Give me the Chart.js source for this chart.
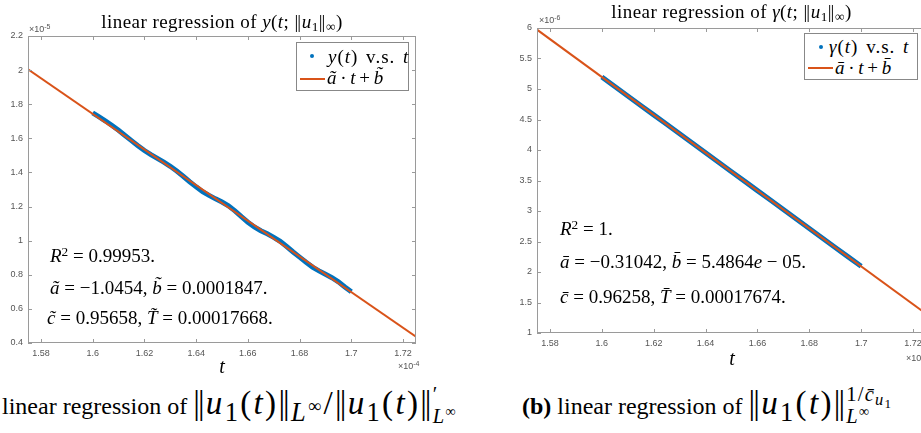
<!DOCTYPE html>
<html>
<head>
<meta charset="utf-8">
<script src="https://cdn.jsdelivr.net/npm/chart.js@4.4.1/dist/chart.umd.min.js"></script>
<style>
  html, body { margin: 0; padding: 0; background: #fff; overflow: hidden; }
  #page { position: relative; width: 921px; height: 433px; overflow: hidden; }
  canvas { position: absolute; }
  .t { position: absolute; white-space: nowrap; line-height: 1; font-family: "Liberation Serif", "DejaVu Serif", serif; color: #000; }
  .t sup, .t sub { font-size: 70%; line-height: 0; position: relative; vertical-align: baseline; }
  .t sup { top: -0.45em; }
  .t sub { top: 0.25em; }
  .nb { letter-spacing: -0.06em; margin-right: 0.1em; }
  .exp { position: absolute; white-space: nowrap; font-family: "Liberation Sans", Arial, sans-serif; font-size: 9px; color: #555; line-height: 1; }
  .exp sup { font-size: 7px; position: relative; top: -0.4em; line-height: 0; vertical-align: baseline; }
  .box { position: absolute; border: 1px solid #888; background: #fff; box-sizing: border-box; }
  .dot { position: absolute; width: 4px; height: 4px; border-radius: 50%; background: #0072BD; }
  .seg { position: absolute; width: 25px; height: 2px; background: #D95319; }
  .lg1 { letter-spacing: 1px; word-spacing: 2px; }
  .lg2 { word-spacing: -1px; }
  .ttl { letter-spacing: 0.45px; }
  .cm { font-size: 1.38em; letter-spacing: 2.3px; }
  .cm sub { font-size: 80%; }
  .stk { display: inline-block; vertical-align: -0.42em; font-size: 62%; line-height: 1.05; letter-spacing: 1.2px; }
  .stk > span { display: block; }
</style>
</head>
<body>
<div id="page">
  <canvas id="chartA" width="440" height="380" style="left:0;top:0"></canvas>
  <canvas id="chartB" width="470" height="370" style="left:480px;top:0"></canvas>

  <!-- titles -->
  <div class="t ttl" style="left:28px;top:12px;width:388px;text-align:center;font-size:19px">linear regression of <i>y</i>(<i>t</i>; <span class="nb">||</span><i>u</i><sub>1</sub><span class="nb">||</span><sub>∞</sub>)</div>
  <div class="t ttl" style="left:537px;top:2px;width:389px;text-align:center;font-size:19px">linear regression of <i>γ</i>(<i>t</i>; <span class="nb">||</span><i>u</i><sub>1</sub><span class="nb">||</span><sub>∞</sub>)</div>

  <!-- exponent labels -->
  <div class="exp" style="left:29px;top:25px">×10<sup>-5</sup></div>
  <div class="exp" style="left:398px;top:362px">×10<sup>-4</sup></div>
  <div class="exp" style="left:539px;top:16px">×10<sup>-6</sup></div>
  <div class="exp" style="left:906px;top:354px">×10<sup>-4</sup></div>

  <!-- axis labels -->
  <div class="t" style="left:216px;top:356px;width:12px;text-align:center;font-size:20px"><i>t</i></div>
  <div class="t" style="left:726px;top:348px;width:12px;text-align:center;font-size:20px"><i>t</i></div>

  <!-- legends -->
  <div class="box" style="left:296px;top:42px;width:113px;height:49px"></div>
  <div class="dot" style="left:310px;top:54px"></div>
  <div class="t lg1" style="left:328px;top:47px;font-size:19px"><i>y</i>(<i>t</i>) v.s. <i>t</i></div>
  <div class="seg" style="left:300px;top:78px"></div>
  <div class="t lg2" style="left:327px;top:68px;font-size:19px"><i>ã</i> · <i>t</i> + <i>b̃</i></div>

  <div class="box" style="left:804px;top:33px;width:114px;height:47px"></div>
  <div class="dot" style="left:819px;top:45px"></div>
  <div class="t lg1" style="left:829px;top:37px;font-size:19px"><i>γ</i>(<i>t</i>) v.s. <i>t</i></div>
  <div class="seg" style="left:808px;top:67px"></div>
  <div class="t lg2" style="left:835px;top:58px;font-size:19px"><i>ā</i> · <i>t</i> + <i>b̄</i></div>

  <!-- fit annotations -->
  <div class="t" style="left:50px;top:246px;font-size:19px"><i>R</i><sup>2</sup> = 0.99953.</div>
  <div class="t" style="left:50px;top:278px;font-size:19px"><i>ã</i> = −1.0454, <i>b̃</i> = 0.0001847.</div>
  <div class="t" style="left:47px;top:308px;font-size:19px"><i>c̃</i> = 0.95658, <i>T̃</i> = 0.00017668.</div>

  <div class="t" style="left:560px;top:219px;font-size:19px"><i>R</i><sup>2</sup> = 1.</div>
  <div class="t" style="left:560px;top:252px;font-size:19px"><i>ā</i> = −0.31042, <i>b̄</i> = 5.4864<i>e</i> − 05.</div>
  <div class="t" style="left:560px;top:287px;font-size:19px"><i>c̄</i> = 0.96258, <i>T̄</i> = 0.00017674.</div>

  <!-- captions -->
  <div class="t" style="left:2px;top:384px;font-size:24px">linear regression of <span class="cm"><span class="nb">||</span><i>u</i><sub>1</sub>(<i>t</i>)<span class="nb">||</span><sub><i>L</i><sup>∞</sup></sub>/<span class="nb">||</span><i>u</i><sub>1</sub>(<i>t</i>)<span class="nb">||</span><span class="stk"><span>′</span><span><i>L</i><sup>∞</sup></span></span></span></div>
  <div class="t" style="left:522px;top:384px;font-size:24px"><b>(b)</b> linear regression of <span class="cm"><span class="nb">||</span><i>u</i><sub>1</sub>(<i>t</i>)<span class="nb">||</span><span class="stk"><span>1/<i>c̄</i><sub><i>u</i><sub>1</sub></sub></span><span><i>L</i><sup>∞</sup></span></span></span></div>
</div>

<script>
// x axis (units of 1e-4), shared by both panels
const xTicks = [1.58, 1.6, 1.62, 1.64, 1.66, 1.68, 1.7, 1.72];
const tFit = [1.575, 1.725];

// panel a: y(t) (units of 1e-5)
const yTicksA = [0.4, 0.6, 0.8, 1, 1.2, 1.4, 1.6, 1.8, 2, 2.2];
const tDataA = [1.6, 1.6025, 1.605, 1.6075, 1.61, 1.6125, 1.615, 1.6175, 1.62, 1.6225,
                1.625, 1.6275, 1.63, 1.6325, 1.635, 1.6375, 1.64, 1.6425, 1.645, 1.6475,
                1.65, 1.6525, 1.655, 1.6575, 1.66, 1.6625, 1.665, 1.6675, 1.67, 1.6725,
                1.675, 1.6775, 1.68, 1.6825, 1.685, 1.6875, 1.69, 1.6925, 1.695, 1.6975, 1.7];
const yDataA = [1.7486, 1.7255, 1.7013, 1.6752, 1.6471, 1.6169, 1.5868, 1.5567, 1.5285, 1.5044,
                1.4823, 1.4601, 1.4360, 1.4079, 1.3777, 1.3456, 1.3154, 1.2873, 1.2652, 1.2450,
                1.2269, 1.2048, 1.1746, 1.1405, 1.1084, 1.0802, 1.0581, 1.0400, 1.0198, 0.9957,
                0.9656, 0.9334, 0.9033, 0.8732, 0.8450, 0.8229, 0.8028, 0.7826, 0.7585, 0.7284, 0.7002];
const yFitA = [2.00495, 0.43685];

// panel b: gamma(t) (units of 1e-6)
const yTicksB = [1, 1.5, 2, 2.5, 3, 3.5, 4, 4.5, 5, 5.5, 6];
const tDataB = [1.6, 1.605, 1.61, 1.615, 1.62, 1.625, 1.63, 1.635, 1.64, 1.645, 1.65,
                1.655, 1.66, 1.665, 1.67, 1.675, 1.68, 1.685, 1.69, 1.695, 1.7];
const yDataB = [5.1968, 5.0416, 4.8864, 4.7312, 4.5760, 4.4208, 4.2655, 4.1103, 3.9551, 3.7999, 3.6447,
                3.4895, 3.3343, 3.1791, 3.0239, 2.8687, 2.7135, 2.5583, 2.4031, 2.2479, 2.0927];
const yFitB = [5.97285, 1.31655];

const blue = '#0072BD';
const red = '#D95319';
const tickFont = { family: 'Liberation Sans', size: 9 };

function fmt(v) {
    return String(parseFloat(Number(v).toFixed(2)));
}

function pts(xs, ys) {
    return xs.map((x, i) => ({ x: x, y: ys[i] }));
}

// MATLAB-like box with inward ticks on all four sides
const boxPlugin = {
    id: 'matlabBox',
    afterDatasetsDraw(chart) {
        const { ctx, chartArea: a, scales } = chart;
        ctx.save();
        ctx.strokeStyle = '#9a9a9a';
        ctx.lineWidth = 1;
        ctx.strokeRect(a.left + 0.5, a.top + 0.5, a.width - 1, a.height - 1);
        ctx.beginPath();
        scales.x.ticks.forEach(t => {
            const px = Math.round(scales.x.getPixelForValue(t.value)) + 0.5;
            ctx.moveTo(px, a.bottom);
            ctx.lineTo(px, a.bottom - 4);
            ctx.moveTo(px, a.top);
            ctx.lineTo(px, a.top + 4);
        });
        scales.y.ticks.forEach(t => {
            const py = Math.round(scales.y.getPixelForValue(t.value)) + 0.5;
            ctx.moveTo(a.left, py);
            ctx.lineTo(a.left + 4, py);
            ctx.moveTo(a.right, py);
            ctx.lineTo(a.right - 4, py);
        });
        ctx.stroke();
        ctx.restore();
    }
};

function makeChart(id, tData, yData, yFit, yTicks, yMin, yMax, padLeft, padTop) {
    return new Chart(document.getElementById(id).getContext('2d'), {
        type: 'scatter',
        data: {
            datasets: [{
                data: pts(tFit, yFit),
                showLine: true,
                borderColor: red,
                borderWidth: 2,
                pointRadius: 0,
                order: 0
            }, {
                data: pts(tData, yData),
                showLine: true,
                borderColor: blue,
                borderWidth: 5,
                pointRadius: 0,
                order: 1
            }]
        },
        options: {
            responsive: false,
            animation: false,
            layout: { padding: { left: padLeft, top: padTop, right: 24, bottom: 0 } },
            plugins: { legend: { display: false }, tooltip: { enabled: false } },
            scales: {
                x: {
                    type: 'linear',
                    min: 1.575,
                    max: 1.725,
                    grid: { display: false, drawTicks: false },
                    border: { display: false },
                    ticks: { padding: 5, font: tickFont, color: '#555', maxRotation: 0, autoSkip: false, callback: v => fmt(v) },
                    afterBuildTicks: s => { s.ticks = xTicks.map(v => ({ value: v })); },
                    afterFit: s => { s.height = 37; }
                },
                y: {
                    type: 'linear',
                    min: yMin,
                    max: yMax,
                    grid: { display: false, drawTicks: false },
                    border: { display: false },
                    ticks: { padding: 5, font: tickFont, color: '#555', autoSkip: false, callback: v => fmt(v) },
                    afterBuildTicks: s => { s.ticks = yTicks.map(v => ({ value: v })); },
                    afterFit: s => { s.width = 28; }
                }
            }
        },
        plugins: [boxPlugin]
    });
}

makeChart('chartA', tDataA, yDataA, yFitA, yTicksA, 0.4, 2.2, 0, 36);
makeChart('chartB', tDataB, yDataB, yFitB, yTicksB, 1, 6, 29, 28);
</script>
</body>
</html>
